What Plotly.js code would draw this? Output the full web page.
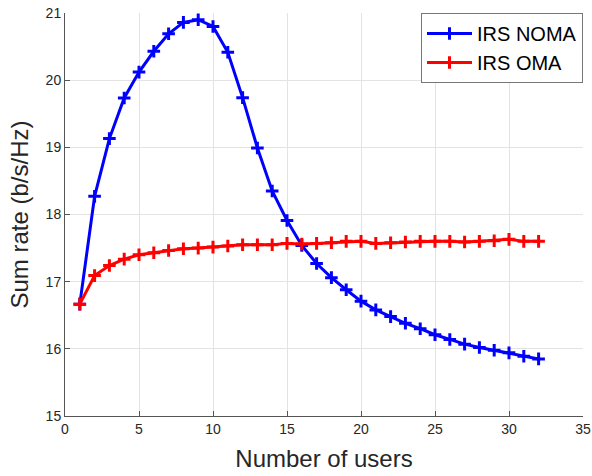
<!DOCTYPE html>
<html>
<head>
<meta charset="utf-8">
<script src="https://cdn.plot.ly/plotly-3.0.1.min.js"></script>
<style>html,body{margin:0;padding:0;background:#fff}#chart{width:592px;height:476px}</style>
</head>
<body>
<div id="chart"></div>
<script>
var users = [1,2,3,4,5,6,7,8,9,10,11,12,13,14,15,16,17,18,19,20,21,22,23,24,25,26,27,28,29,30,31,32];
var irsNoma = [16.665,18.27,19.13,19.735,20.12,20.43,20.69,20.86,20.9,20.8,20.415,19.74,18.99,18.35,17.91,17.54,17.27,17.06,16.88,16.71,16.58,16.48,16.38,16.30,16.21,16.14,16.07,16.02,15.98,15.94,15.89,15.85];
var irsOma = [16.665,17.09,17.24,17.335,17.40,17.43,17.465,17.49,17.50,17.515,17.53,17.55,17.55,17.55,17.57,17.56,17.57,17.58,17.60,17.60,17.57,17.58,17.59,17.60,17.60,17.60,17.59,17.60,17.61,17.63,17.60,17.60];
var seriesNames = ['IRS NOMA','IRS OMA'];
var xTicks = [0,5,10,15,20,25,30,35];
var yTicks = [15,16,17,18,19,20,21];

function trace(y, name, color){
  return {x: users, y: y, name: name, type: 'scatter', mode: 'lines+markers',
    line: {color: color, width: 3},
    marker: {symbol: 'cross-thin', size: 9, color: color, line: {color: color, width: 3}}};
}
var data = [trace(irsNoma, seriesNames[0], '#0000ff'), trace(irsOma, seriesNames[1], '#ff0000')];
var axisCommon = {showgrid: true, gridcolor: '#e3e3e3', gridwidth: 1, zeroline: false,
  showline: true, linecolor: '#555555', linewidth: 1, ticks: 'inside', ticklen: 5, tickcolor: '#555555',
  tickfont: {family: 'Liberation Sans, Arial, sans-serif', size: 14, color: '#262626'}};
var layout = {
  width: 592, height: 476,
  margin: {l: 65, r: 9, t: 13, b: 60},
  paper_bgcolor: '#ffffff', plot_bgcolor: '#ffffff',
  showlegend: true,
  legend: {x: 1, y: 1, xanchor: 'right', yanchor: 'top', bordercolor: '#777777', borderwidth: 1,
    bgcolor: '#ffffff', itemwidth: 45, tracegroupgap: 0,
    font: {family: 'Liberation Sans, Arial, sans-serif', size: 20, color: '#000000'}},
  xaxis: Object.assign({}, axisCommon, {range: [0, 35], tickvals: xTicks, ticktext: xTicks.map(String),
    title: {text: 'Number of users', standoff: 14, font: {family: 'Liberation Sans, Arial, sans-serif', size: 24, color: '#262626'}}}),
  yaxis: Object.assign({}, axisCommon, {range: [15, 21], tickvals: yTicks, ticktext: yTicks.map(String),
    title: {text: 'Sum rate (b/s/Hz)', standoff: 10, font: {family: 'Liberation Sans, Arial, sans-serif', size: 24, color: '#262626'}}})
};
Plotly.newPlot('chart', data, layout, {displayModeBar: false, staticPlot: true});
</script>
</body>
</html>
